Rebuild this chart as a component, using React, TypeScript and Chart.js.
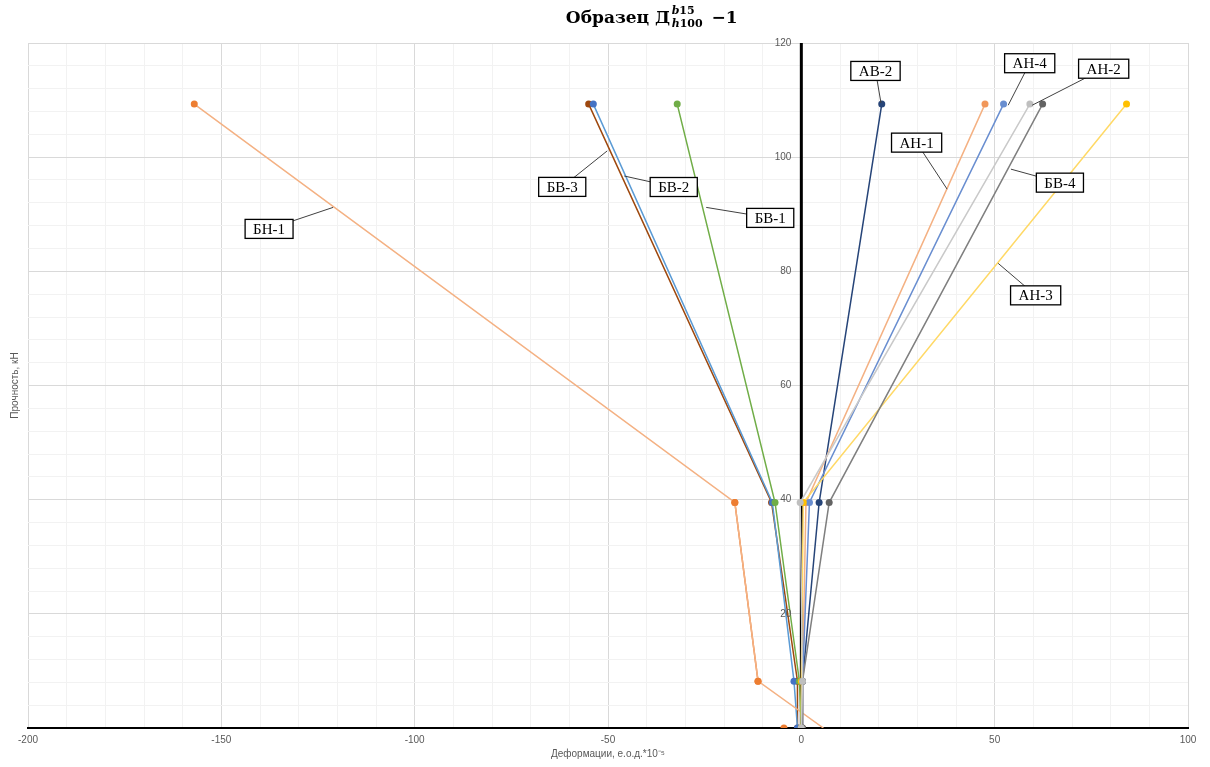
import React, { useEffect, useRef } from 'react';
import { Chart, registerables } from 'chart.js';

Chart.register(...registerables);

// load levels (kN) at which strains were read
const loadLevels = [0, 8.2, 39.5, 109.3];

// strain values (e.o.d. *10^-5) for each gauge at each load level
const bn1 = [5.7, -11.2, -17.2, -157.0];
const bn1Lower = [-4.5, -11.2, -17.2];
const bv3 = [-1.0, -1.0, -7.7, -55.0];
const bv2 = [-1.0, -1.9, -7.5, -53.8];
const bv1 = [0.0, -0.5, -6.8, -32.1];
const av2 = [0.2, 0.3, 4.6, 20.8];
const an1 = [0.3, 0.3, 1.2, 47.5];
const an4 = [0.2, 0.3, 2.1, 52.3];
const an2 = [0.0, 0.3, -0.3, 59.1];
const bv4 = [0.3, 0.3, 7.2, 62.4];
const an3 = [0.0, 0.0, 0.5, 84.1];

// axis ticks
const xTickLabels = ['-200', '-150', '-100', '-50', '0', '50', '100'];
const yTickLabels = ['20', '40', '60', '80', '100', '120'];

// callout labels: name, anchor on the line (data units)
const calloutNames = ['БН-1', 'БВ-3', 'БВ-2', 'БВ-1', 'АВ-2', 'АН-4', 'АН-2', 'АН-1', 'БВ-4', 'АН-3'];
const calloutX = [-121.1, -50.2, -45.8, -24.6, 20.6, 53.5, 59.7, 37.7, 54.2, 50.9];
const calloutY = [91.2, 101.1, 96.7, 91.2, 109.5, 109.1, 109.1, 94.4, 97.9, 81.4];
// callout box offsets from anchor (px)
const calloutDx = [-64, -45, 49.5, 64, -5.5, 21.5, 71.5, -30.5, 49, 37.5];
const calloutDy = [21.5, 36, 11, 10.5, -32, -42, -36.5, -46.5, 13.5, 32];

const toPts = (xs: number[]) => xs.map((x, i) => ({ x, y: loadLevels[i] }));

const overlayPlugin = {
  id: 'overlay',
  beforeDatasetsDraw(chart: any) {
    const ctx = chart.ctx;
    const xs = chart.scales.x;
    const area = chart.chartArea;
    const x0 = xs.getPixelForValue(0);
    ctx.save();
    ctx.strokeStyle = '#000000';
    ctx.lineWidth = 3;
    ctx.beginPath();
    ctx.moveTo(x0, area.top);
    ctx.lineTo(x0, area.bottom);
    ctx.stroke();
    ctx.restore();
  },
  afterDatasetsDraw(chart: any) {
    const ctx = chart.ctx;
    const xs = chart.scales.x;
    const ys = chart.scales.y;
    ctx.save();
    ctx.font = '15px "Liberation Serif", "Times New Roman", serif';
    ctx.textAlign = 'center';
    ctx.textBaseline = 'middle';
    calloutNames.forEach((name, i) => {
      const ax = xs.getPixelForValue(calloutX[i]);
      const ay = ys.getPixelForValue(calloutY[i]);
      const cx = ax + calloutDx[i];
      const cy = ay + calloutDy[i];
      const w = ctx.measureText(name).width + 16;
      const h = 19;
      ctx.strokeStyle = '#404040';
      ctx.lineWidth = 1;
      ctx.beginPath();
      ctx.moveTo(cx, cy);
      ctx.lineTo(ax, ay);
      ctx.stroke();
      ctx.fillStyle = '#ffffff';
      ctx.fillRect(cx - w / 2, cy - h / 2, w, h);
      ctx.strokeStyle = '#000000';
      ctx.lineWidth = 1.3;
      ctx.strokeRect(cx - w / 2, cy - h / 2, w, h);
      ctx.fillStyle = '#000000';
      ctx.fillText(name, cx, cy + 1);
    });
    ctx.restore();
  },
  afterDraw(chart: any) {
    const ctx = chart.ctx;
    const xs = chart.scales.x;
    const ys = chart.scales.y;
    const area = chart.chartArea;
    ctx.save();
    // y tick labels next to the x = 0 axis
    ctx.font = '10px "Liberation Sans", Arial, sans-serif';
    ctx.fillStyle = '#595959';
    ctx.textAlign = 'right';
    ctx.textBaseline = 'middle';
    const x0 = xs.getPixelForValue(0);
    yTickLabels.forEach((t) => {
      ctx.fillText(t, x0 - 10, ys.getPixelForValue(Number(t)));
    });
    // axis titles
    ctx.textAlign = 'center';
    ctx.fillText('Деформации, е.о.д.*10⁻⁵', (area.left + area.right) / 2, 754);
    ctx.save();
    ctx.translate(15, (area.top + area.bottom) / 2);
    ctx.rotate(-Math.PI / 2);
    ctx.fillText('Прочность, кН', 0, 0);
    ctx.restore();

    // chart title with super/subscripts
    const mainFont = 'bold 17px "DejaVu Serif", serif';
    const scriptFont = 'bold 11px "DejaVu Serif", serif';
    const scriptItal = 'bold italic 11px "DejaVu Serif", serif';
    ctx.textAlign = 'left';
    ctx.textBaseline = 'alphabetic';
    ctx.fillStyle = '#000000';
    ctx.font = mainFont;
    const part1 = 'Образец Д';
    const part3 = ' \u22121';
    const w1 = ctx.measureText(part1).width;
    const w3 = ctx.measureText(part3).width;
    ctx.font = scriptItal;
    const wb = ctx.measureText('b').width;
    const wh = ctx.measureText('h').width;
    ctx.font = scriptFont;
    const w15 = ctx.measureText('15').width;
    const w100 = ctx.measureText('100').width;
    const ws = Math.max(wb + w15, wh + w100) + 3;
    const total = w1 + ws + w3;
    let tx = 651 - total / 2;
    const base = 23;
    ctx.font = mainFont;
    ctx.fillText(part1, tx, base);
    tx += w1 + 1.5;
    ctx.font = scriptItal;
    ctx.fillText('b', tx, base - 9);
    ctx.fillText('h', tx, base + 4);
    ctx.font = scriptFont;
    ctx.fillText('15', tx + wb, base - 9);
    ctx.fillText('100', tx + wh, base + 4);
    tx += ws;
    ctx.font = mainFont;
    ctx.fillText(part3, tx, base);
    ctx.restore();
  },
};

type S = { label: string; xs: number[]; line: string; point: string; hideFirst?: boolean };

const seriesList: S[] = [
  { label: 'АН-2', xs: an2, line: '#C9C9C9', point: '#BFBFBF' },
  { label: 'БВ-4', xs: bv4, line: '#7F7F7F', point: '#636363' },
  { label: 'АН-3', xs: an3, line: '#FFD966', point: '#FFC000' },
  { label: 'АН-4', xs: an4, line: '#698ED0', point: '#698ED0' },
  { label: 'АН-1', xs: an1, line: '#F4B183', point: '#F1975A' },
  { label: 'АВ-2', xs: av2, line: '#264478', point: '#264478' },
  { label: 'БВ-1', xs: bv1, line: '#70AD47', point: '#70AD47' },
  { label: 'БН-1', xs: bn1, line: '#F4B183', point: '#ED7D31' },
  { label: 'БН-1a', xs: bn1Lower, line: '#ED7D31', point: '#ED7D31', hideFirst: true },
  { label: 'БВ-2', xs: bv2, line: '#5B9BD5', point: '#4472C4' },
  { label: 'БВ-3', xs: bv3, line: '#9E480E', point: '#9E480E' },
];

export default function App() {
  const ref = useRef<HTMLCanvasElement | null>(null);
  useEffect(() => {
    if (!ref.current) return;
    const datasets = seriesList.map((s) => ({
      label: s.label,
      data: toPts(s.xs),
      showLine: true,
      borderColor: s.line,
      backgroundColor: s.point,
      borderWidth: 1.5,
      pointRadius: s.label === 'БН-1' ? [0, 3.5, 3.5, 3.5] : 3.5,
      pointBackgroundColor: s.point,
      pointBorderWidth: 0,
      segment: s.hideFirst
        ? { borderColor: (c: any) => (c.p0DataIndex === 0 ? 'rgba(0,0,0,0)' : undefined) }
        : undefined,
    }));
    const chart = new Chart(ref.current, {
      type: 'scatter',
      data: { datasets },
      plugins: [overlayPlugin],
      options: {
        animation: false,
        responsive: true,
        maintainAspectRatio: false,
        layout: { padding: { left: 28, right: 22, top: 43, bottom: 15 } },
        plugins: { legend: { display: false }, tooltip: { enabled: false } },
        scales: {
          x: {
            type: 'linear',
            min: -200,
            max: 100,
            ticks: {
              stepSize: 10,
              autoSkip: false,
              maxRotation: 0,
              padding: 6,
              color: '#595959',
              font: { size: 10, family: '"Liberation Sans", Arial, sans-serif' },
              callback: (v: any) => {
                const s = String(v);
                return xTickLabels.includes(s) ? s : '';
              },
            },
            grid: {
              drawTicks: false,
              color: (c: any) => (c.tick && c.tick.value % 50 === 0 ? '#D9D9D9' : '#F2F2F2'),
            },
            border: { color: '#000000', width: 2 },
          },
          y: {
            type: 'linear',
            min: 0,
            max: 120,
            ticks: { stepSize: 4, display: false, autoSkip: false },
            grid: {
              drawTicks: false,
              color: (c: any) => (c.tick && c.tick.value % 20 === 0 ? '#D9D9D9' : '#F2F2F2'),
            },
            border: { display: false },
          },
        },
      },
    });
    return () => chart.destroy();
  }, []);
  return (
    <div style={{ position: 'absolute', left: 0, top: 0, width: 1210, height: 767, background: '#fff' }}>
      <canvas ref={ref} />
    </div>
  );
}
